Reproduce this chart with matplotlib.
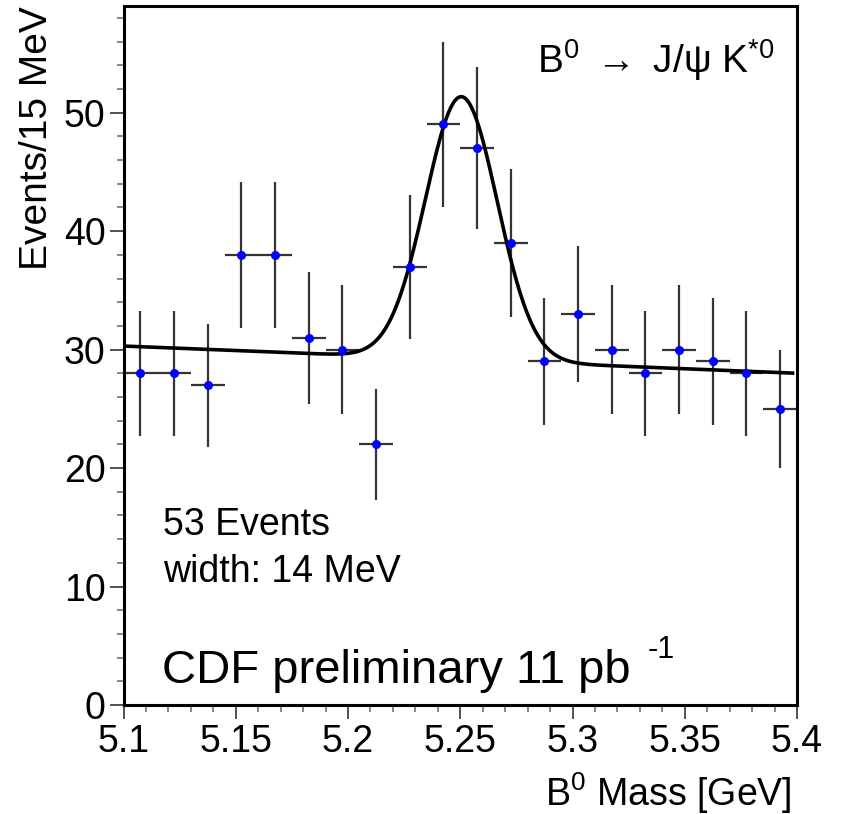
import numpy as np
import matplotlib
matplotlib.use("Agg")
import matplotlib.pyplot as plt
from matplotlib.ticker import MultipleLocator

plt.rcParams['font.family'] = ['Liberation Sans', 'DejaVu Sans']
plt.rcParams['mathtext.fontset'] = 'custom'
plt.rcParams['mathtext.rm'] = 'Liberation Sans'
plt.rcParams['mathtext.it'] = 'Liberation Sans:italic'
plt.rcParams['mathtext.bf'] = 'Liberation Sans:bold'
plt.rcParams['axes.unicode_minus'] = False

# ---- data ----
bin_centers = [5.1075, 5.1225, 5.1375, 5.1525, 5.1675, 5.1825, 5.1975, 5.2125,
               5.2275, 5.2425, 5.2575, 5.2725, 5.2875, 5.3025, 5.3175, 5.3325,
               5.3475, 5.3625, 5.3775, 5.3925]
counts = [28, 28, 27, 38, 38, 31, 30, 22, 37, 49, 47, 39, 29, 33, 30, 28, 30, 29, 28, 25]
bin_half_width = 0.0075

# fit parameters (gaussian + linear background)
fit_mean = 5.2505
fit_sigma = 0.0160
fit_amp = 22.2
bkg_at_lo = 30.3   # background at 5.1
bkg_at_hi = 28.0   # background at 5.4
x_lo, x_hi = 5.101, 5.398

xtick_vals = [5.1, 5.15, 5.2, 5.25, 5.3, 5.35, 5.4]
xtick_labels = ['5.1', '5.15', '5.2', '5.25', '5.3', '5.35', '5.4']
ytick_vals = [0, 10, 20, 30, 40, 50]

fig = plt.figure(figsize=(8.45, 8.14), dpi=100)
ax = fig.add_axes([0.1462, 0.1339, 0.797, 0.8587])

xc = np.array(bin_centers)
yc = np.array(counts, dtype=float)
ax.errorbar(xc, yc, xerr=bin_half_width, yerr=np.sqrt(yc), fmt='none',
            ecolor='#333333', elinewidth=1.6, capsize=0, zorder=2)
ax.plot(xc, yc, 'o', color='#0000ff', markersize=6.5, markeredgewidth=0, zorder=4)

xf = np.linspace(x_lo, x_hi, 600)
bkg = bkg_at_lo + (bkg_at_hi - bkg_at_lo) * (xf - 5.1) / 0.3
yf = bkg + fit_amp * np.exp(-0.5 * ((xf - fit_mean) / fit_sigma) ** 2)
ax.plot(xf, yf, color='black', lw=2.6, zorder=3)

ax.set_xlim(5.1, 5.4)
ax.set_ylim(0, 59)
ax.set_xticks(xtick_vals)
ax.set_xticklabels(xtick_labels)
ax.set_yticks(ytick_vals)
ax.xaxis.set_minor_locator(MultipleLocator(0.01))
ax.yaxis.set_minor_locator(MultipleLocator(2))
ax.tick_params(axis='both', which='major', direction='out', length=10, width=1.3,
               color='#444444', labelsize=27)
ax.tick_params(axis='x', which='major', pad=4)
ax.tick_params(axis='y', which='major', pad=3)
ax.tick_params(axis='both', which='minor', direction='out', length=5, width=1.1,
               color='#666666')
ax.tick_params(top=False, right=False, which='both')
for s in ax.spines.values():
    s.set_linewidth(2.2)
    s.set_color('black')

ax.set_ylabel('Events/15 MeV', fontsize=28, loc='top', labelpad=6)
ax.set_xlabel(r'B$^{\mathregular{0}}$ Mass [GeV]', fontsize=27)
ax.xaxis.set_label_coords(0.9926, -0.093)
ax.xaxis.label.set_horizontalalignment('right')

H = 814
ax.text(537, H - 73, r'B$^{\mathregular{0}}$ $\rightarrow$ J/ψ K$^{\mathregular{*0}}$', fontsize=28,
        transform=None, ha='left', va='baseline')
ax.text(163, H - 535, '53 Events', fontsize=27, transform=None, ha='left', va='baseline')
ax.text(163, H - 582, 'width: 14 MeV', fontsize=27, transform=None, ha='left', va='baseline')
ax.text(162, H - 683, 'CDF preliminary 11 pb', fontsize=34,
        transform=None, ha='left', va='baseline')
ax.text(648, H - 658, '-1', fontsize=22, transform=None, ha='left', va='baseline')

fig.savefig('out.png', dpi=100)
